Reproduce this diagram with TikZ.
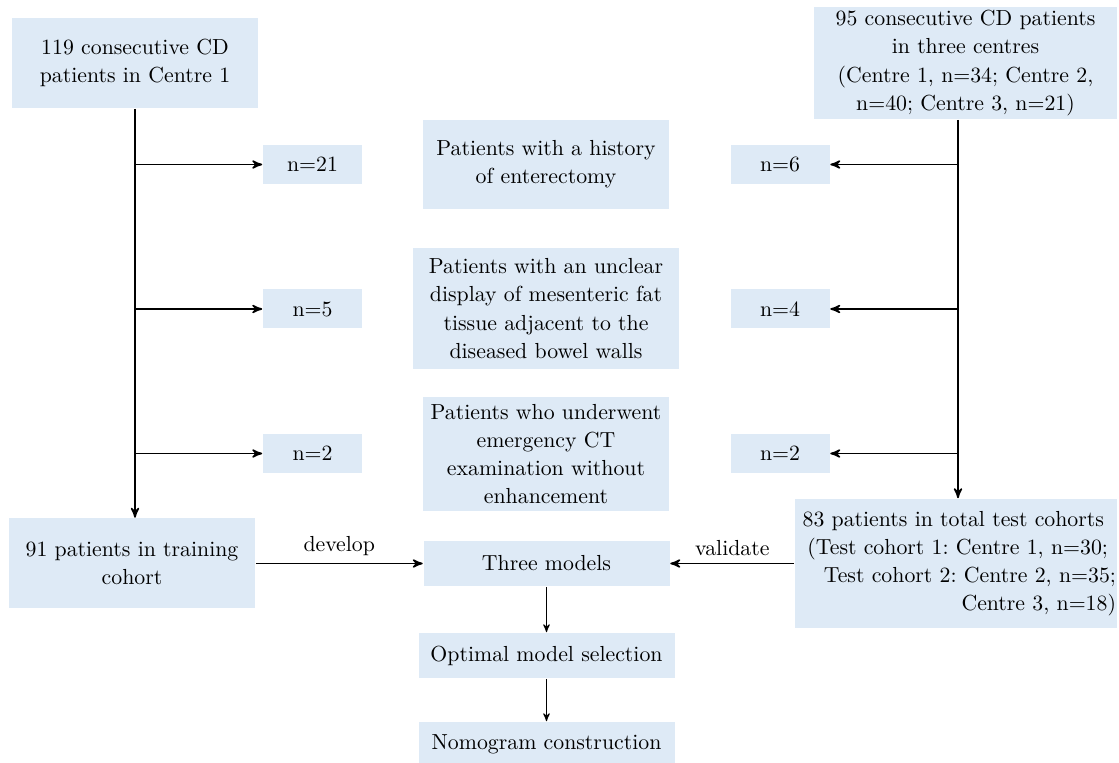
\documentclass[tikz,border=0pt]{standalone}
\usetikzlibrary{arrows}
\definecolor{boxblue}{RGB}{222,234,246}
\frenchspacing

\begin{document}
\begin{tikzpicture}[x=0.5pt, y=-0.5pt, ->, >=stealth', line width=0.8pt,
                    box/.style={fill=boxblue, inner sep=0pt, align=center,
                                font=\fontsize{10.9}{14.1}\selectfont},
                    nbox/.style={box, minimum width=49.5pt, minimum height=19.5pt},
                    lbl/.style={font=\fontsize{10.9}{14.1}\selectfont}]
                \useasboundingbox (0,0) rectangle (1119,763);

                % sources
                \node[box, minimum width=123pt, minimum height=45pt] (c1) at (135,63)
                     {119 consecutive CD\\patients in Centre 1};
                \node[box, minimum width=151.5pt, minimum height=56pt] (c3) at (965.5,63)
                     {95 consecutive CD patients\\in three centres\\(Centre 1, n=34; Centre 2,\\n=40; Centre 3, n=21)};

                % exclusion reasons
                \node[box, minimum width=123pt, minimum height=44.5pt] (ex1) at (546,164.5)
                     {Patients with a history\\of enterectomy};
                \node[box, minimum width=133pt, minimum height=60.5pt] (ex2) at (546,308.5)
                     {Patients with an unclear\\display of mesenteric fat\\tissue adjacent to the\\diseased bowel walls};
                \node[box, minimum width=123pt, minimum height=57pt] (ex3) at (546,454)
                     {Patients who underwent\\emergency CT\\examination without\\enhancement};

                \node[nbox] (l21) at (312.5,164.5) {n=21};
                \node[nbox] (l5)  at (312.5,309) {n=5};
                \node[nbox] (l2)  at (312.5,453.5) {n=2};
                \node[nbox] (r6)  at (780,164.5) {n=6};
                \node[nbox] (r4)  at (780,309) {n=4};
                \node[nbox] (r2)  at (780,453.5) {n=2};

                % cohorts and models
                \node[box, minimum width=123pt, minimum height=45pt] (train) at (132,563.5)
                     {91 patients in training\\cohort};
                \node[box, align=right, text width=160pt, inner xsep=0.5pt,
                      minimum height=64.5pt] (test) at (956,563.5)
                     {83 patients in total test cohorts\kern6pt\\(Test cohort 1: Centre 1, n=30;\kern4pt\\Test cohort 2: Centre 2, n=35;\\Centre 3, n=18)};
                \node[box, minimum width=123pt, minimum height=22.5pt] (three) at (546.5,563.5)
                     {Three models};
                \node[box, minimum width=128pt, minimum height=22.5pt] (opt) at (546.5,655.5)
                     {Optimal model selection};
                \node[box, minimum width=128pt, minimum height=22.5pt] (nomo) at (546.5,744.5)
                     {Nomogram construction};

                \coordinate (rx) at (958,0);

                \draw (c1.south) -- (c1.south |- train.north);
                \draw (c1.south |- l21) -- (l21);
                \draw (c1.south |- l5) -- (l5);
                \draw (c1.south |- l2) -- (l2);

                \draw (c3.south -| rx) -- (test.north -| rx);
                \draw (rx |- r6) -- (r6);
                \draw (rx |- r4) -- (r4);
                \draw (rx |- r2) -- (r2);

                \draw (train) -- node[above, lbl] {develop} (three);
                \draw (test) -- node[above, lbl] {validate} (three);
                \draw[line width=0.5pt] (three) -- (opt);
                \draw[line width=0.5pt] (opt) -- (nomo);
            \end{tikzpicture}
\end{document}
